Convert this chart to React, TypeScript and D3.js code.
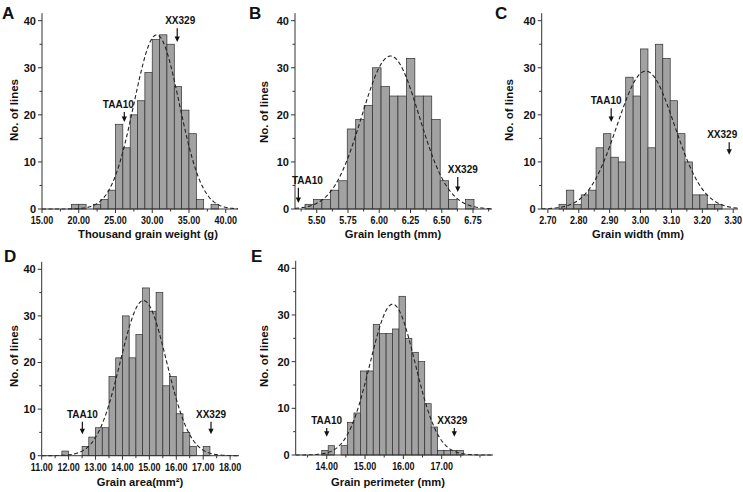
import React from 'react';
import * as d3 from 'd3';

// bin counts, left to right
const weightCounts = [1, 1, 0, 1, 2, 4, 18, 13, 20, 23, 29, 36, 37, 35, 26, 21, 16, 2, 0, 1];
const lengthCounts = [1, 2, 2, 4, 6, 17, 19, 22, 30, 26, 24, 24, 32, 24, 24, 19, 6, 2, 0, 2];
const widthCounts = [1, 4, 1, 3, 4, 13, 16, 11, 10, 28, 24, 34, 13, 35, 32, 23, 16, 10, 3, 3, 1, 1];
const areaCounts = [1, 0, 0, 2, 4, 6, 6, 17, 21, 30, 21, 26, 36, 31, 35, 15, 17, 9, 5, 2, 0, 2];
const perimeterCounts = [1, 2, 0, 2, 7, 9, 18, 18, 28, 26, 26, 27, 34, 25, 22, 20, 11, 6, 1, 1, 1, 1];
const allCounts = [weightCounts, lengthCounts, widthCounts, areaCounts, perimeterCounts];

// first bin edge and bin width of each histogram
const binStarts = [19, 5.406, 2.736, 11.75, 13.87];
const binWidths = [1, 0.0676, 0.024, 0.25, 0.168];

// fitted normal curves (mean, sd, height at the mean)
const curveMeans = [30.6, 6.09, 3.017, 14.78, 15.72];
const curveSds = [3.08, 0.23, 0.093, 0.86, 0.59];
const curvePeaks = [37, 32.5, 29.3, 33.3, 32.3];

// where the two parents fall
const taa10Values = [26.2, 5.353, 2.905, 12.51, 14.0];
const xx329Values = [33.4, 6.628, 3.287, 17.29, 17.33];

// axis ticks
const weightTicks = [15, 20, 25, 30, 35, 40];
const weightMinor = [17.5, 22.5, 27.5, 32.5, 37.5];
const lengthTicks = [5.5, 5.75, 6.0, 6.25, 6.5, 6.75];
const lengthMinor = [5.375, 5.625, 5.875, 6.125, 6.375, 6.625, 6.875];
const widthTicks = [2.7, 2.8, 2.9, 3.0, 3.1, 3.2, 3.3];
const widthMinor = [2.75, 2.85, 2.95, 3.05, 3.15, 3.25];
const areaTicks = [11, 12, 13, 14, 15, 16, 17, 18];
const areaMinor = [11.5, 12.5, 13.5, 14.5, 15.5, 16.5, 17.5];
const perimeterTicks = [14, 15, 16, 17];
const perimeterMinor = [13.5, 14.5, 15.5, 16.5, 17.5, 18];
const majorTicks = [weightTicks, lengthTicks, widthTicks, areaTicks, perimeterTicks];
const minorTicks = [weightMinor, lengthMinor, widthMinor, areaMinor, perimeterMinor];
const yTicks = [0, 10, 20, 30, 40];
const yMinor = [5, 15, 25, 35];

const xTitles = [
  'Thousand grain weight (g)',
  'Grain length (mm)',
  'Grain width (mm)',
  'Grain area(mm²)',
  'Grain perimeter (mm)',
];
const panelLetters = ['A', 'B', 'C', 'D', 'E'];
const xDomains: [number, number][] = [
  [15, 41.67],
  [5.326, 6.902],
  [2.68, 3.3155],
  [11, 18.33],
  [13.19, 18.34],
];

// pixel layout of each panel
const layout = [
  { left: 42, right: 238, base: 209, top40: 20.7, letter: [2, 19], yt: [14, 110], xt: [148, 238],
    taa: { top: 20.6, tip: 18.5, dx: -6 }, xx: { top: 38.4, tip: 35.5, dx: 3 } },
  { left: 295, right: 492, base: 209, top40: 20.7, letter: [249, 19], yt: [264, 112], xt: [393, 238],
    taa: { top: 4.5, tip: 1.3, dx: 9 }, xx: { top: 6.8, tip: 3.6, dx: 5 } },
  { left: 541.7, right: 738, base: 209, top40: 20.7, letter: [495, 19], yt: [509, 110], xt: [638, 238],
    taa: { top: 21.4, tip: 18.5, dx: -5 }, xx: { top: 14.2, tip: 11.5, dx: -7 } },
  { left: 41.7, right: 239, base: 455.7, top40: 269.3, letter: [4, 262], yt: [14, 356], xt: [140, 486],
    taa: { top: 7.3, tip: 4.6, dx: 0 }, xx: { top: 7.3, tip: 4.6, dx: 0 } },
  { left: 295.7, right: 493, base: 455, top40: 268.3, letter: [251, 262], yt: [264, 356], xt: [388, 486],
    taa: { top: 5.8, tip: 3.9, dx: 0 }, xx: { top: 5.8, tip: 3.9, dx: -2 } },
];

const FONT = 'Liberation Sans, Arial, Helvetica, sans-serif';
const AXIS = '#333';

function Arrow({ x, y, label, dx }: { x: number; y: [number, number]; label: string; dx: number }) {
  const [top, tip] = y;
  return (
    <g>
      <line x1={x} x2={x} y1={top} y2={tip - 4} stroke="#111" strokeWidth={1.2} />
      <path d={`M${x - 2.6},${tip - 5.5}L${x + 2.6},${tip - 5.5}L${x},${tip}Z`} fill="#111" />
      <text x={x + dx} y={top - 4} textAnchor="middle" fontSize={10} fontWeight="bold" fill="#111">
        {label}
      </text>
    </g>
  );
}

function Panel({ i }: { i: number }) {
  const L = layout[i];
  const x = d3.scaleLinear().domain(xDomains[i]).range([L.left, L.right]);
  const y = d3.scaleLinear().domain([0, 40]).range([L.base, L.top40]);
  const bins = allCounts[i].map((c, k) => ({
    x0: binStarts[i] + k * binWidths[i],
    x1: binStarts[i] + (k + 1) * binWidths[i],
    c,
  }));
  const [d0, d1] = xDomains[i];
  const pts = d3.range(0, 301).map((k) => d0 + ((d1 - d0) * k) / 300);
  const mu = curveMeans[i];
  const sd = curveSds[i];
  const curve = d3
    .line<number>()
    .x((v) => x(v))
    .y((v) => y(curvePeaks[i] * Math.exp(-((v - mu) ** 2) / (2 * sd * sd))));
  const yTop = y(41.6);

  return (
    <g fontFamily={FONT}>
      <text x={L.letter[0]} y={L.letter[1]} fontSize={17} fontWeight="bold" fill="#111">
        {panelLetters[i]}
      </text>

      {bins
        .filter((b) => b.c > 0)
        .map((b, k) => (
          <rect
            key={k}
            x={x(b.x0)}
            y={y(b.c)}
            width={x(b.x1) - x(b.x0)}
            height={y(0) - y(b.c)}
            fill="#a2a2a2"
            stroke="#2e2e2e"
            strokeWidth={0.7}
          />
        ))}

      <path d={curve(pts) || ''} fill="none" stroke="#222" strokeWidth={1.1} strokeDasharray="4,2.5" />

      {/* axes */}
      <line x1={L.left} x2={L.left} y1={yTop} y2={L.base} stroke={AXIS} strokeWidth={1} />
      <line x1={L.left} x2={L.right} y1={L.base} y2={L.base} stroke={AXIS} strokeWidth={1} />
      {yTicks.map((t) => (
        <g key={t}>
          <line x1={L.left - 4} x2={L.left} y1={y(t)} y2={y(t)} stroke={AXIS} />
          <text x={L.left - 6} y={y(t)} dy="0.36em" textAnchor="end" fontSize={11} fontWeight="bold" fill="#111">
            {t}
          </text>
        </g>
      ))}
      {yMinor.map((t) => (
        <line key={t} x1={L.left - 2.5} x2={L.left} y1={y(t)} y2={y(t)} stroke={AXIS} />
      ))}
      {majorTicks[i].map((t) => (
        <g key={t}>
          <line x1={x(t)} x2={x(t)} y1={L.base} y2={L.base + 4} stroke={AXIS} />
          <text
            transform={`translate(${x(t)},${L.base + 15}) scale(0.78,1)`}
            textAnchor="middle"
            fontSize={11.5}
            fontWeight="bold"
            fill="#111"
          >
            {t.toFixed(2)}
          </text>
        </g>
      ))}
      {minorTicks[i].map((t) => (
        <line key={t} x1={x(t)} x2={x(t)} y1={L.base} y2={L.base + 2.5} stroke={AXIS} />
      ))}

      <text x={L.xt[0]} y={L.xt[1]} textAnchor="middle" fontSize={11.2} fontWeight="bold" fill="#111">
        {xTitles[i]}
      </text>
      <text
        transform={`translate(${L.yt[0] + 4},${L.yt[1]}) rotate(-90)`}
        textAnchor="middle"
        fontSize={11.5}
        fontWeight="bold"
        fill="#111"
      >
        No. of lines
      </text>

      <Arrow x={x(taa10Values[i])} y={[y(L.taa.top), y(L.taa.tip)]} label="TAA10" dx={L.taa.dx} />
      <Arrow x={x(xx329Values[i])} y={[y(L.xx.top), y(L.xx.tip)]} label="XX329" dx={L.xx.dx} />
    </g>
  );
}

export default function App() {
  return (
    <>
      <style>{'body{margin:0;background:#fff}'}</style>
      <svg width={743} height={492} style={{ display: 'block' }}>
        <rect width={743} height={492} fill="#fff" />
        {[0, 1, 2, 3, 4].map((i) => (
          <Panel key={i} i={i} />
        ))}
      </svg>
    </>
  );
}
